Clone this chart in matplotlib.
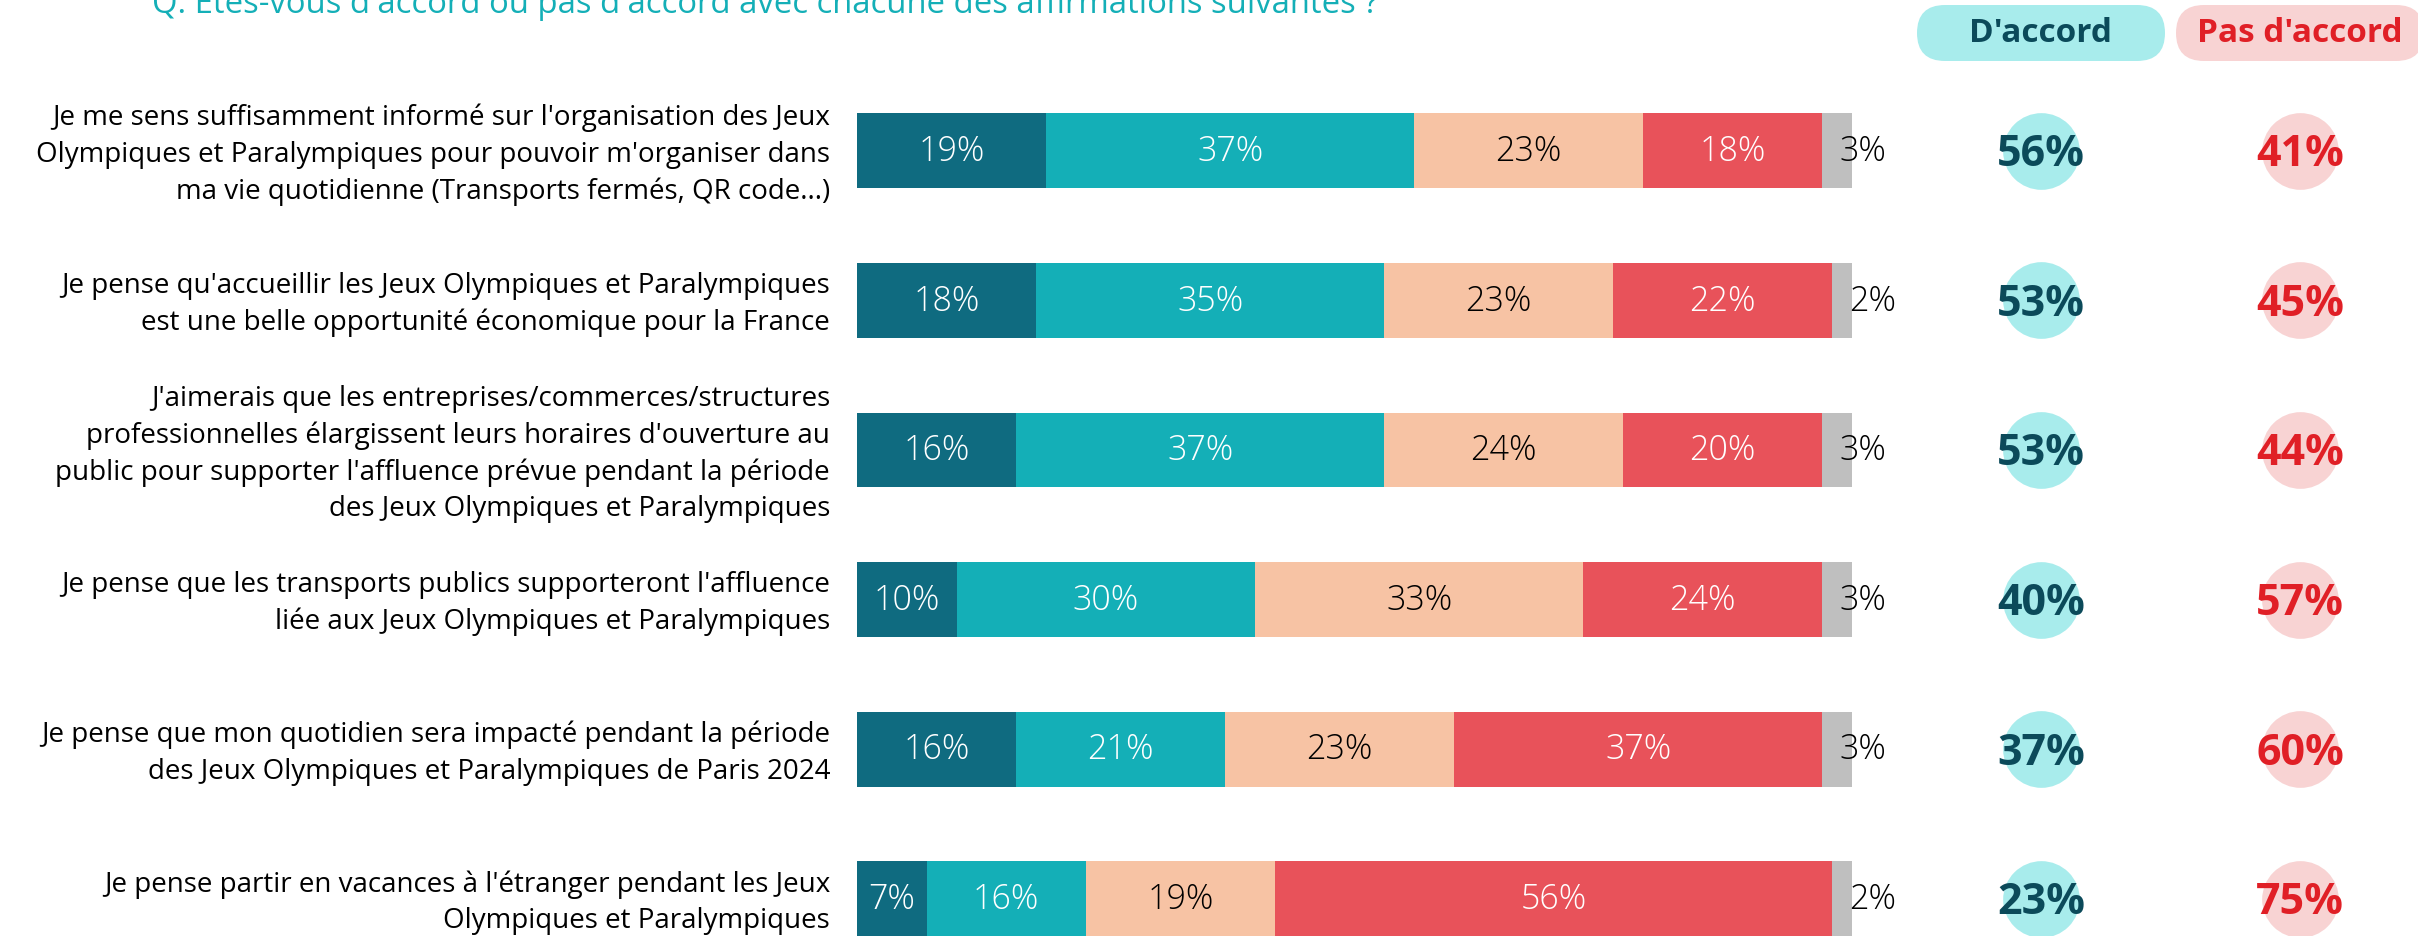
import matplotlib.pyplot as plt
import matplotlib.transforms as mtransforms
from matplotlib.patches import FancyBboxPatch

plt.rcParams['font.family'] = ['Open Sans', 'DejaVu Sans']

# data
affirmations = [
    "Je me sens suffisamment informé sur l'organisation des Jeux\nOlympiques et Paralympiques pour pouvoir m'organiser dans\nma vie quotidienne (Transports fermés, QR code...)",
    "Je pense qu'accueillir les Jeux Olympiques et Paralympiques\nest une belle opportunité économique pour la France",
    "J'aimerais que les entreprises/commerces/structures\nprofessionnelles élargissent leurs horaires d'ouverture au\npublic pour supporter l'affluence prévue pendant la période\ndes Jeux Olympiques et Paralympiques",
    "Je pense que les transports publics supporteront l'affluence\nliée aux Jeux Olympiques et Paralympiques",
    "Je pense que mon quotidien sera impacté pendant la période\ndes Jeux Olympiques et Paralympiques de Paris 2024",
    "Je pense partir en vacances à l'étranger pendant les Jeux\nOlympiques et Paralympiques",
]
tout_a_fait = [19, 18, 16, 10, 16, 7]
plutot_oui = [37, 35, 37, 30, 21, 16]
plutot_non = [23, 23, 24, 33, 23, 19]
pas_du_tout = [18, 22, 20, 24, 37, 56]
nsp = [3, 2, 3, 3, 3, 2]
total_accord = [56, 53, 53, 40, 37, 23]
total_pas_accord = [41, 45, 44, 57, 60, 75]

titre = "Q. Etes-vous d'accord ou pas d'accord avec chacune des affirmations suivantes ?"

series = [tout_a_fait, plutot_oui, plutot_non, pas_du_tout]
colors = ['#0F6B80', '#14AFB7', '#F7C3A4', '#E8525A']
text_colors = ['white', 'white', 'black', 'white']
gray = '#BFBFBF'

W, H = 2418, 937
row_step = 149.6
first_row = 151.8

fig = plt.figure(figsize=(W / 100, H / 100), dpi=100)
ov = fig.add_axes([0, 0, 1, 1])
ov.set_xlim(0, W)
ov.set_ylim(H, 0)
ov.axis('off')

ax = fig.add_axes([857 / W, 0, 995 / W, (H - first_row + 0.5 * row_step) / H])
ax.axis('off')

y = list(range(len(affirmations)))
left = [0] * len(y)
for vals, c, tc in zip(series, colors, text_colors):
    ax.barh(y, vals, left=left, height=0.5, color=c, edgecolor='none')
    for i, v in enumerate(vals):
        ax.text(left[i] + v / 2, i, f'{v}%', ha='center', va='center',
                color=tc, fontsize=24.5, fontweight='light')
    left = [l + v for l, v in zip(left, vals)]
ax.barh(y, nsp, left=left, height=0.5, color=gray, edgecolor='none')
for i, v in enumerate(nsp):
    ax.text(left[i] + 1.7, i, f'{v}%', ha='left', va='center',
            color='black', fontsize=24.5, fontweight='light', clip_on=False)

# x in pixels, y in rows
trans = mtransforms.blended_transform_factory(ov.transData, ax.transData)

for i, lab in enumerate(affirmations):
    ax.text(830, i + 0.02, lab, transform=trans, ha='right', va='center',
            fontsize=20, linespacing=1.4, color='black')

ax.scatter([2041] * len(y), y, s=3050, color='#A8ECEC', transform=trans,
           clip_on=False, linewidths=0, zorder=1)
ax.scatter([2300] * len(y), y, s=3050, color='#F8D3D3', transform=trans,
           clip_on=False, linewidths=0, zorder=1)
for i in y:
    ax.text(2041, i + 0.02, f'{total_accord[i]}%', transform=trans, ha='center',
            va='center', fontsize=31, fontweight='bold', color='#0B4A5A', zorder=3)
    ax.text(2300, i + 0.02, f'{total_pas_accord[i]}%', transform=trans, ha='center',
            va='center', fontsize=31, fontweight='bold', color='#E01F26', zorder=3)

ax.set_xlim(0, 100)
ax.set_ylim((H - first_row) / row_step, -0.5)

# headers
ov.add_patch(FancyBboxPatch((1917, 6), 248, 56, boxstyle='round,pad=0,rounding_size=28',
                            fc='#A8ECEC', ec='none'))
ov.add_patch(FancyBboxPatch((2176, 6), 248, 56, boxstyle='round,pad=0,rounding_size=28',
                            fc='#F8D3D3', ec='none'))
ov.text(2041, 34, "D'accord", ha='center', va='center', fontsize=24,
        fontweight='bold', color='#0B4A5A')
ov.text(2300, 34, "Pas d'accord", ha='center', va='center', fontsize=24,
        fontweight='bold', color='#E01F26')

ov.text(152, 13, titre, ha='left', va='baseline', fontsize=23.7, color='#14AFB7')

fig.savefig('out.png', dpi=100, facecolor='white')
